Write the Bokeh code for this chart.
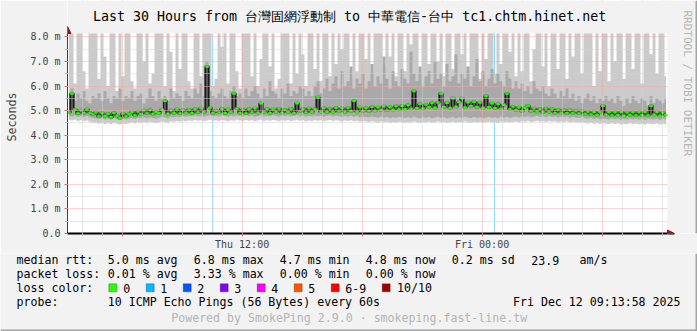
import math
import numpy as np
from bokeh.plotting import figure
from bokeh.layouts import column
from bokeh.models import (FixedTicker, Label, Span, Arrow, NormalHead,
                          Range1d, BoxAnnotation)
from bokeh.embed import file_html
from bokeh.resources import INLINE

# ---------------- data ----------------
TITLE = "Last 30 Hours from 台灣固網浮動制 to 中華電信-台中 tc1.chtm.hinet.net"
start_hour = 3.27      # hours since Thu 00:00 (Thu 03:16)
step_hours = 0.15      # one sample column = 9 minutes
span_hours = 30.0
y_top = 8.14           # top of the graph area (ms)

x_ticks = [6, 12, 18, 24, 30]
x_tick_labels = {6: "", 12: "Thu 12:00", 18: "", 24: "Fri 00:00", 30: ""}
y_ticks = [0, 1, 2, 3, 4, 5, 6, 7, 8]
y_tick_labels = ["0.0", "1.0 m", "2.0 m", "3.0 m", "4.0 m", "5.0 m", "6.0 m", "7.0 m", "8.0 m"]

# median RTT per column (ms)
median = [
    4.92, 5.70, 5.05, 4.88, 5.02, 4.90, 5.06, 4.91, 4.84, 4.93,
    4.76, 4.90, 4.78, 4.87, 4.73, 4.91, 4.79, 4.70, 4.88, 4.76,
    4.86, 4.95, 4.80, 4.97, 4.85, 5.02, 4.88, 5.03, 4.86, 4.96,
    4.89, 5.04, 5.40, 4.87, 5.02, 4.90, 5.06, 4.88, 5.03, 4.91,
    5.05, 4.89, 5.07, 4.92, 5.10, 4.93, 6.80, 5.12, 4.90, 5.01,
    4.92, 5.08, 4.89, 5.06, 4.93, 5.70, 5.09, 4.90, 5.05, 4.88,
    5.07, 4.92, 5.10, 4.91, 5.30, 4.95, 5.08, 4.90, 5.06, 4.94,
    5.09, 4.91, 5.05, 4.93, 5.08, 4.90, 5.30, 4.97, 5.08, 4.92,
    5.10, 4.94, 5.07, 5.55, 4.96, 5.11, 4.93, 5.09, 4.95, 5.12,
    4.97, 5.10, 4.94, 5.12, 4.98, 5.40, 4.96, 5.14, 4.99, 5.11,
    4.98, 5.16, 5.00, 5.14, 5.03, 5.18, 5.01, 5.15, 5.04, 5.19,
    5.05, 5.20, 5.06, 5.23, 5.08, 5.80, 5.10, 5.27, 5.09, 5.25,
    5.14, 5.31, 5.12, 5.33, 5.70, 5.14, 5.32, 5.11, 5.50, 5.16,
    5.35, 5.50, 5.13, 5.34, 5.18, 5.36, 5.15, 5.33, 5.12, 5.60,
    5.14, 5.30, 5.10, 5.27, 5.08, 5.24, 5.70, 5.05, 5.17, 5.03,
    5.14, 4.99, 5.12, 5.20, 4.98, 5.10, 4.96, 5.08, 4.93, 5.09,
    4.94, 5.07, 4.90, 5.05, 4.91, 5.04, 4.89, 5.03, 4.90, 5.01,
    4.88, 4.99, 4.86, 4.97, 4.84, 4.96, 4.82, 4.94, 5.20, 4.83,
    4.95, 4.80, 4.94, 4.81, 4.96, 4.79, 4.93, 4.82, 4.95, 4.80,
    4.94, 4.81, 4.96, 4.80, 5.20, 4.83, 4.95, 4.79, 4.92, 4.82,
]

# fastest ping per column (ms)
ping_min = [
    4.62, 4.60, 4.63, 4.58, 4.61, 4.57, 4.60, 4.55, 4.52, 4.50,
    4.47, 4.51, 4.46, 4.49, 4.45, 4.50, 4.47, 4.44, 4.48, 4.46,
    4.49, 4.52, 4.48, 4.53, 4.50, 4.54, 4.51, 4.55, 4.52, 4.49,
    4.53, 4.56, 4.54, 4.51, 4.57, 4.55, 4.58, 4.56, 4.59, 4.57,
    4.60, 4.58, 4.62, 4.59, 4.61, 4.57, 4.60, 4.63, 4.59, 4.61,
    4.58, 4.62, 4.60, 4.57, 4.61, 4.59, 4.63, 4.60, 4.58, 4.62,
    4.59, 4.61, 4.57, 4.60, 4.63, 4.58, 4.61, 4.59, 4.62, 4.60,
    4.57, 4.61, 4.59, 4.62, 4.58, 4.60, 4.63, 4.59, 4.61, 4.57,
    4.60, 4.58, 4.62, 4.59, 4.61, 4.57, 4.60, 4.62, 4.58, 4.61,
    4.59, 4.56, 4.60, 4.58, 4.61, 4.57, 4.59, 4.55, 4.58, 4.56,
    4.54, 4.57, 4.55, 4.52, 4.56, 4.53, 4.55, 4.51, 4.54, 4.52,
    4.55, 4.53, 4.51, 4.54, 4.52, 4.56, 4.53, 4.50, 4.54, 4.52,
    4.55, 4.51, 4.53, 4.56, 4.52, 4.54, 4.50, 4.53, 4.55, 4.51,
    4.54, 4.52, 4.56, 4.53, 4.51, 4.55, 4.52, 4.54, 4.50, 4.53,
    4.55, 4.52, 4.54, 4.51, 4.56, 4.53, 4.55, 4.52, 4.54, 4.56,
    4.53, 4.57, 4.55, 4.58, 4.54, 4.56, 4.59, 4.55, 4.57, 4.54,
    4.58, 4.55, 4.57, 4.53, 4.56, 4.54, 4.57, 4.52, 4.55, 4.53,
    4.51, 4.54, 4.50, 4.48, 4.52, 4.47, 4.50, 4.46, 4.49, 4.47,
    4.45, 4.49, 4.46, 4.48, 4.44, 4.47, 4.45, 4.49, 4.46, 4.48,
    4.45, 4.47, 4.44, 4.48, 4.46, 4.45, 4.48, 4.44, 4.47, 4.46,
]

# lower edge of the inner smoke (ms)
ping_q1 = [
    4.78, 4.76, 4.80, 4.75, 4.77, 4.74, 4.78, 4.72, 4.70, 4.68,
    4.66, 4.69, 4.64, 4.67, 4.63, 4.68, 4.65, 4.62, 4.66, 4.64,
    4.67, 4.70, 4.66, 4.71, 4.68, 4.72, 4.69, 4.73, 4.70, 4.67,
    4.71, 4.74, 4.72, 4.69, 4.75, 4.73, 4.76, 4.74, 4.77, 4.75,
    4.78, 4.76, 4.80, 4.77, 4.79, 4.75, 4.78, 4.81, 4.77, 4.79,
    4.76, 4.80, 4.78, 4.75, 4.79, 4.77, 4.81, 4.78, 4.76, 4.80,
    4.77, 4.79, 4.75, 4.78, 4.81, 4.76, 4.79, 4.77, 4.80, 4.78,
    4.75, 4.79, 4.77, 4.80, 4.76, 4.78, 4.81, 4.77, 4.79, 4.75,
    4.78, 4.76, 4.80, 4.77, 4.79, 4.75, 4.78, 4.80, 4.76, 4.79,
    4.77, 4.74, 4.78, 4.76, 4.79, 4.75, 4.77, 4.73, 4.76, 4.74,
    4.73, 4.76, 4.74, 4.71, 4.75, 4.72, 4.74, 4.70, 4.73, 4.71,
    4.74, 4.72, 4.70, 4.73, 4.71, 4.75, 4.72, 4.69, 4.73, 4.71,
    4.74, 4.70, 4.72, 4.75, 4.71, 4.73, 4.69, 4.72, 4.74, 4.70,
    4.73, 4.71, 4.75, 4.72, 4.70, 4.74, 4.71, 4.73, 4.69, 4.72,
    4.74, 4.71, 4.73, 4.70, 4.75, 4.72, 4.74, 4.71, 4.73, 4.75,
    4.72, 4.76, 4.74, 4.77, 4.73, 4.75, 4.78, 4.74, 4.76, 4.73,
    4.77, 4.74, 4.76, 4.72, 4.75, 4.73, 4.76, 4.71, 4.74, 4.72,
    4.70, 4.73, 4.69, 4.67, 4.71, 4.66, 4.69, 4.65, 4.68, 4.66,
    4.64, 4.68, 4.65, 4.67, 4.63, 4.66, 4.64, 4.68, 4.65, 4.67,
    4.64, 4.66, 4.63, 4.67, 4.65, 4.64, 4.67, 4.63, 4.66, 4.65,
]

# upper edge of the inner smoke (ms)
ping_q3 = [
    5.6, 5.9, 5.4, 5.7, 5.5, 5.8, 5.4, 5.3, 5.6, 5.5,
    5.7, 5.4, 5.8, 5.5, 5.3, 5.6, 5.5, 5.9, 5.4, 5.6,
    5.5, 5.8, 5.4, 5.6, 5.7, 5.3, 5.5, 5.9, 5.6, 5.4,
    5.8, 5.5, 5.6, 5.4, 5.9, 5.5, 5.7, 5.6, 5.4, 5.8,
    5.6, 5.5, 5.9, 5.7, 6.1, 5.6, 7.0, 5.8, 5.6, 5.5,
    5.7, 5.9, 5.6, 5.5, 5.8, 6.0, 5.6, 5.7, 5.5, 5.9,
    5.6, 5.8, 6.0, 5.7, 5.5, 5.9, 5.6, 6.2, 5.8, 5.7,
    5.5, 5.9, 5.7, 6.1, 5.6, 5.8, 5.7, 6.0, 5.9, 5.6,
    5.8, 5.6, 6.0, 6.2, 5.7, 5.9, 6.3, 5.8, 6.1, 6.4,
    5.9, 6.6, 6.0, 6.2, 6.8, 5.9, 6.3, 6.1, 6.5, 5.9,
    6.2, 6.9, 6.0, 6.4, 6.1, 7.2, 6.3, 5.9, 6.6, 6.2,
    6.0, 6.7, 6.3, 6.1, 7.4, 6.5, 6.2, 6.8, 6.0, 6.4,
    6.6, 6.1, 7.0, 6.3, 6.5, 6.0, 6.9, 6.2, 6.4, 7.3,
    6.1, 6.5, 6.3, 6.8, 6.0, 6.4, 7.1, 6.2, 6.6, 6.0,
    6.3, 6.7, 6.1, 6.5, 6.2, 6.0, 6.6, 6.3, 5.9, 6.2,
    5.9, 6.1, 5.8, 6.0, 5.7, 6.2, 5.9, 5.8, 6.0, 5.7,
    5.6, 5.9, 5.7, 5.5, 5.8, 5.6, 5.9, 5.5, 5.7, 5.4,
    5.6, 5.3, 5.5, 5.7, 5.4, 5.6, 5.3, 5.5, 5.4, 5.6,
    5.4, 5.5, 5.3, 5.6, 5.4, 5.2, 5.5, 5.3, 5.6, 5.4,
    5.3, 5.5, 5.4, 5.2, 5.6, 5.3, 5.5, 5.4, 5.3, 5.5,
]

# slowest ping per column (ms); 9 = beyond the top of the graph
ping_max = [
    9, 9, 6.1, 9, 9, 6.6, 5.9, 9, 9, 9,
    6.3, 9, 7.2, 6.0, 9, 9, 5.8, 9, 6.4, 9,
    9, 6.2, 5.9, 9, 9, 7.0, 9, 6.1, 6.5, 9,
    9, 9, 6.0, 9, 7.4, 5.8, 9, 6.7, 9, 9,
    6.2, 5.9, 9, 9, 6.4, 9, 9, 9, 6.0, 6.3,
    9, 7.6, 9, 6.1, 9, 9, 6.6, 5.9, 9, 9,
    9, 6.4, 9, 6.0, 7.1, 9, 9, 6.8, 9, 5.9,
    6.3, 9, 9, 9, 6.1, 9, 6.5, 9, 7.3, 6.0,
    9, 9, 6.7, 9, 6.2, 9, 9, 6.4, 9, 6.9,
    9, 7.5, 9, 9, 6.3, 9, 6.6, 9, 9, 7.1,
    9, 6.5, 9, 9, 9, 6.8, 9, 7.2, 9, 6.4,
    9, 9, 6.6, 9, 7.7, 9, 9, 6.5, 9, 9,
    6.9, 9, 9, 7.0, 9, 6.4, 9, 9, 6.7, 9,
    9, 7.3, 9, 6.6, 9, 9, 9, 6.3, 9, 7.1,
    9, 9, 6.5, 9, 6.9, 9, 9, 7.4, 9, 6.4,
    9, 6.6, 9, 9, 6.2, 7.5, 9, 9, 6.8, 9,
    6.0, 9, 9, 6.7, 9, 9, 6.3, 9, 7.2, 9,
    9, 6.5, 9, 9, 9, 6.0, 9, 6.6, 9, 9,
    6.2, 9, 7.0, 9, 9, 6.3, 9, 9, 6.7, 9,
    9, 6.1, 9, 9, 7.3, 9, 6.5, 9, 9, 6.4,
]

loss_hours = [10.53, 24.62]          # columns with 1/10 packets lost
loss_labels = ["0", "1", "2", "3", "4", "5", "6-9", "10/10"]
loss_colors = ["#26ff00", "#00b8ff", "#0059ff", "#7e00ff", "#ff00ff",
               "#ff5500", "#ff0000", "#a10000"]

rtt_stats = ["5.0 ms avg", "6.8 ms max", "4.7 ms min", "4.8 ms now", "0.2 ms sd"]
rtt_am = ["23.9", "am/s"]
loss_stats = ["0.01 % avg", "3.33 % max", "0.00 % min", "0.00 % now"]
probe_text = "10 ICMP Echo Pings (56 Bytes) every 60s"
stamp_text = "Fri Dec 12 09:13:58 2025"
footer_text = "Powered by SmokePing 2.9.0 \u00b7 smokeping.fast-line.tw"
watermark_text = "RRDTOOL / TOBI OETIKER"

times = start_hour + step_hours * (np.arange(len(median)) + 0.5)
col_left = times - step_hours * 0.6
col_right = times + step_hours * 0.6

# ---------------- styles ----------------
W = 697
H1, H2 = 253, 78                 # graph figure / legend figure heights
FL, FT, FB = 67, 0, 233          # frame left/top/bottom of the graph figure
PX_PER_H = 20.0
PX_PER_MS = (FB - 33) / y_top
MONO = "DejaVu Sans Mono"
BACK = "#f2f2f2"
EDGE = "#a4a4a4"
TXT_SHIFT = 3.5                  # renderer puts the baseline a little low

x_end = start_hour + (W - FL) / PX_PER_H
y_end = (FB - FT) / PX_PER_MS

p = figure(width=W, height=H1, output_backend="svg", toolbar_location=None,
           x_range=Range1d(start_hour, x_end), y_range=Range1d(0, y_end),
           min_border_left=FL, min_border_right=0,
           min_border_top=FT, min_border_bottom=H1 - FB,
           background_fill_color="white", border_fill_color=BACK,
           outline_line_color=None)
p.frame_align = False

for h in loss_hours:
    p.add_layout(Span(location=h, dimension="height", line_color="#8fd8f6",
                      line_width=1, level="underlay"))

p.varea_step(x=times, y1=ping_min, y2=ping_max, step_mode="center",
             fill_color="#cbcbcb")
p.varea_step(x=times, y1=ping_q1, y2=ping_q3, step_mode="center",
             fill_color="#a9a9a9")
p.step(times, median, mode="center", line_color="#5e5e5e", line_width=3)
p.step(times, median, mode="center", line_color="#1a1a1a", line_width=1.2)
p.segment(x0=col_left, x1=col_right, y0=median, y1=median,
          line_color="#26ff00", line_width=2.5)

# axes
minor_hours = [h for h in range(4, 34) if h % 6 != 0]
p.xaxis.ticker = FixedTicker(ticks=x_ticks, minor_ticks=minor_hours)
p.xaxis.bounds = (start_hour, start_hour + span_hours)
p.xaxis.major_label_overrides = x_tick_labels
p.xaxis.major_label_text_font = MONO
p.xaxis.major_label_text_font_size = "10px"
p.xaxis.major_label_standoff = 2
p.xaxis.axis_line_color = "black"
p.xaxis.axis_line_width = 2
p.xaxis.major_tick_in = 0
p.xaxis.major_tick_out = 3
p.xaxis.major_tick_line_color = "#e07070"
p.xaxis.minor_tick_in = 0
p.xaxis.minor_tick_out = 2
p.xaxis.minor_tick_line_color = "#b8b8b8"

p.yaxis.ticker = FixedTicker(ticks=y_ticks, minor_ticks=[t + 0.5 for t in y_ticks[:-1]])
p.yaxis.bounds = (0, y_top)
p.yaxis.major_label_overrides = {t: s for t, s in zip(y_ticks, y_tick_labels)}
p.yaxis.major_label_text_font = MONO
p.yaxis.major_label_text_font_size = "10px"
p.yaxis.major_label_standoff = 4
p.yaxis.axis_line_color = "#404040"
p.yaxis.axis_line_width = 1
p.yaxis.major_tick_in = 0
p.yaxis.major_tick_out = 3
p.yaxis.major_tick_line_color = "#e07070"
p.yaxis.minor_tick_in = 0
p.yaxis.minor_tick_out = 2
p.yaxis.minor_tick_line_color = "#b8b8b8"
p.yaxis.axis_label = "Seconds"
p.yaxis.axis_label_text_font = MONO
p.yaxis.axis_label_text_font_size = "11.7px"
p.yaxis.axis_label_text_font_style = "normal"
p.yaxis.axis_label_standoff = 8

for g in (p.xgrid, p.ygrid):
    g.level = "guide"
    g.grid_line_color = "#f0a8a8"
    g.grid_line_dash = "1 1"
    g.grid_line_width = 1
    g.minor_grid_line_color = "#d0d0d0"
    g.minor_grid_line_dash = "1 1"
    g.minor_grid_line_width = 1

# background outside the graph area (above the top and right of the end)
p.add_layout(BoxAnnotation(bottom=y_top, fill_color=BACK, fill_alpha=1,
                           line_color=None))
p.add_layout(BoxAnnotation(left=start_hour + span_hours, fill_color=BACK,
                           fill_alpha=1, line_color=None))
p.add_layout(BoxAnnotation(left=W - FL - 2, left_units="screen", fill_color=EDGE,
                           fill_alpha=1, line_color=None))

# arrow heads on the axes
head_col = "#8b1a1a"
p.add_layout(Arrow(end=NormalHead(size=7, fill_color=head_col, line_color=head_col),
                   x_start=start_hour + span_hours, y_start=0,
                   x_end=start_hour + span_hours + 7 / PX_PER_H, y_end=0,
                   line_color="black", line_width=2))
p.add_layout(Arrow(end=NormalHead(size=7, fill_color=head_col, line_color=head_col),
                   x_start=start_hour, y_start=y_top,
                   x_end=start_hour, y_end=y_top + 7 / PX_PER_MS,
                   line_color="#404040", line_width=1))


def text(fig, fig_left, fig_bottom, txt, X, Y, color="black", size="11.6px",
         align="left", baseline="alphabetic", angle=0.0):
    fig.add_layout(Label(x=X - fig_left, y=fig_bottom - Y, x_units="screen",
                         y_units="screen", text=txt, text_font=MONO,
                         text_font_size=size, text_color=color,
                         text_align=align, text_baseline=baseline, angle=angle))


text(p, FL, FB, TITLE, 92.5, 19.3 - TXT_SHIFT, size="13.3px")
text(p, FL, FB, watermark_text, 686.5, 10, color="#b4b4b4", size="11px",
     baseline="middle", angle=-math.pi / 2)

# ---------------- legend figure ----------------
q = figure(width=W, height=H2, output_backend="svg", toolbar_location=None,
           x_range=Range1d(0, 1), y_range=Range1d(0, 1),
           x_axis_type=None, y_axis_type=None, min_border=0,
           min_border_left=0, min_border_right=0, min_border_top=0,
           min_border_bottom=0,
           background_fill_color=BACK, border_fill_color=BACK,
           outline_line_color=None)
q.frame_align = False
q.xgrid.visible = False
q.ygrid.visible = False
QB = H1 + H2   # canvas y of q's bottom edge


def qtext(txt, X, Y, **kw):
    text(q, 0, QB, txt, X, Y - TXT_SHIFT, **kw)


row_y = [263.3, 277.0, 291.0, 304.8]
stat_x = [107.3, 193.3, 279.3, 365.3, 451.3]
qtext("median rtt:", 16, row_y[0])
for s, x in zip(rtt_stats, stat_x):
    qtext(s, x, row_y[0])
qtext(rtt_am[0], 530.7, row_y[0])
qtext(rtt_am[1], 579.0, row_y[0])
qtext("packet loss:", 16, row_y[1])
for s, x in zip(loss_stats, stat_x):
    qtext(s, x, row_y[1])
qtext("loss color:", 16, row_y[2])
qtext("probe:", 16, row_y[3])
qtext(probe_text, 107.3, row_y[3])
qtext(stamp_text, 680, row_y[3], align="right")
qtext(footer_text, 348.7, 321.0, color="#b4b4b4", align="center")

# loss colour keys: swatch left edge and label position (canvas px)
swatch_x = [108.3, 145.7, 182.7, 219.7, 256.7, 293.7, 330.7, 381.7]
swatch_label_x = [122.8, 159.8, 196.8, 233.8, 270.8, 307.8, 344.8, 396.5]
SW_TOP, SW_BOT = 283.3, 291.3
for lab, col, sx, lx in zip(loss_labels, loss_colors, swatch_x, swatch_label_x):
    q.add_layout(BoxAnnotation(left=sx, right=sx + 8, top=QB - SW_TOP,
                               bottom=QB - SW_BOT, left_units="screen",
                               right_units="screen", top_units="screen",
                               bottom_units="screen", fill_color=col,
                               fill_alpha=1, line_color="#222222",
                               line_width=1))
    qtext(lab, lx, row_y[2])

q.add_layout(BoxAnnotation(left=W - 2, left_units="screen", fill_color=EDGE,
                           fill_alpha=1, line_color=None))
q.add_layout(BoxAnnotation(top=2, top_units="screen", fill_color=EDGE,
                           fill_alpha=1, line_color=None))

page = column(p, q, spacing=0)
open("out.html", "w").write(file_html(page, INLINE))
